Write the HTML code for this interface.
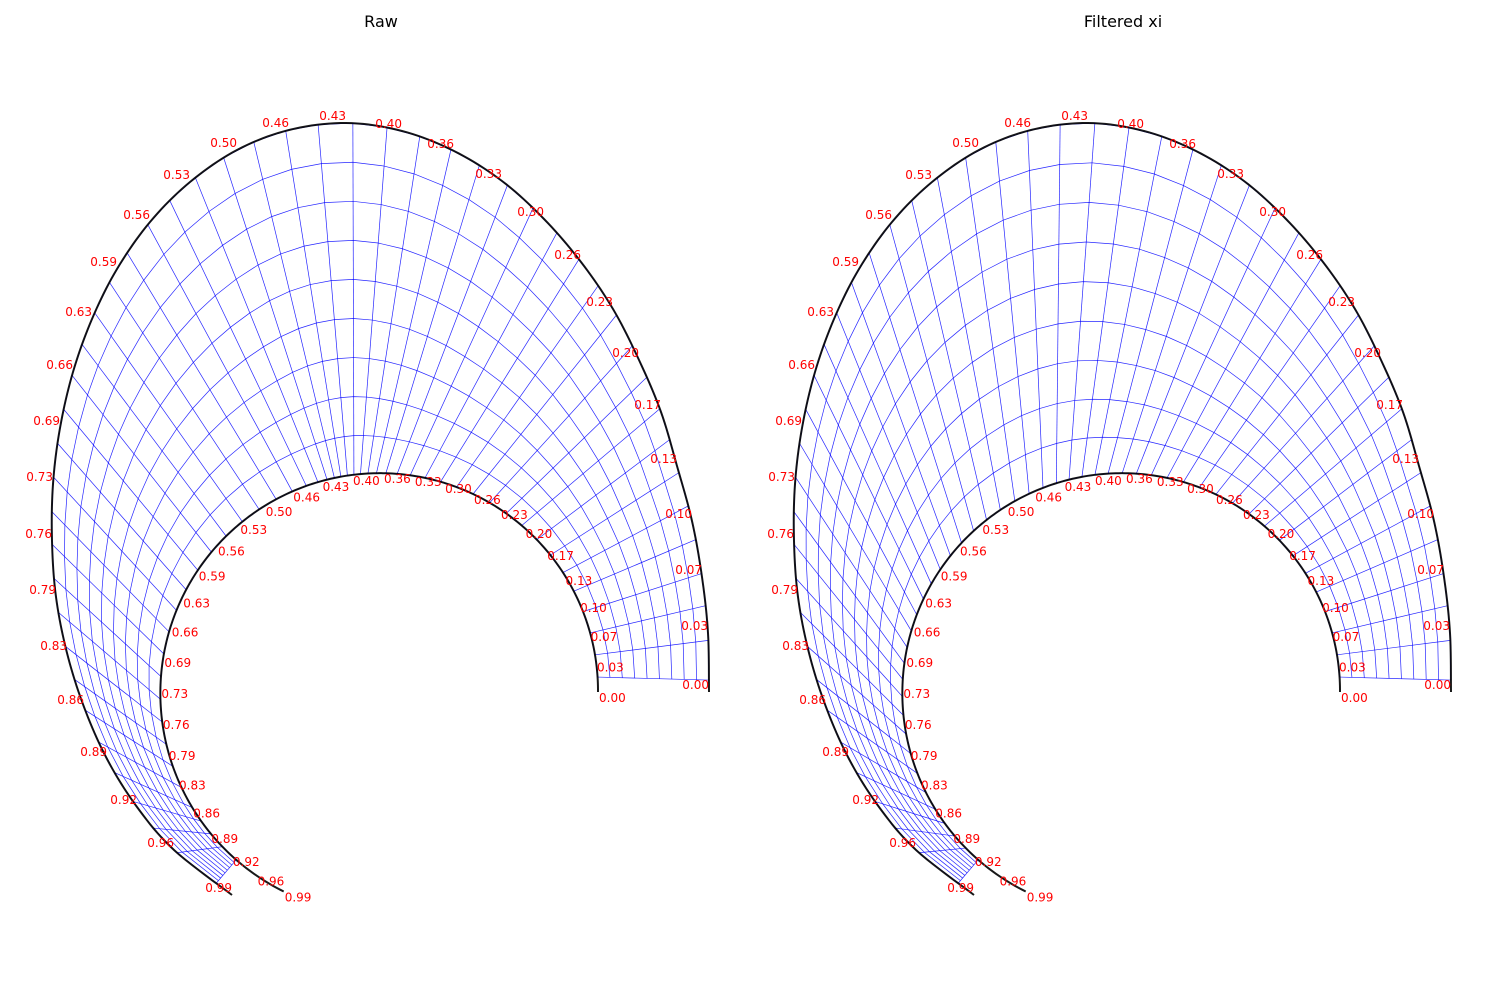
<!DOCTYPE html>
<html><head><meta charset="utf-8"><title>Raw vs Filtered xi mesh</title>
<style>
html,body{margin:0;padding:0;background:#fff;}
svg{display:block;}
text{font-family:"DejaVu Sans","Liberation Sans",sans-serif;}
</style></head>
<body>
<svg id="chart" width="1500" height="1000" viewBox="0 0 1500 1000" xmlns="http://www.w3.org/2000/svg">
  <rect width="1500" height="1000" fill="#fff"/>
  <text x="381" y="27" font-size="16" text-anchor="middle">Raw</text>
  <text x="1123" y="27" font-size="16" text-anchor="middle">Filtered xi</text>
  <g id="panel-raw"></g>
  <g id="panel-filtered"></g>
</svg>
<script>
// ---- data ----
const tickValues = [0,0.033,0.066,0.099,0.132,0.165,0.198,0.231,0.264,0.297,0.33,0.363,0.396,0.429,0.462,0.495,0.528,0.561,0.594,0.627,0.66,0.693,0.726,0.759,0.792,0.825,0.858,0.891,0.924,0.957,0.99];
const tickLabels = ["0.00","0.03","0.07","0.10","0.13","0.17","0.20","0.23","0.26","0.30","0.33","0.36","0.40","0.43","0.46","0.50","0.53","0.56","0.59","0.63","0.66","0.69","0.73","0.76","0.79","0.83","0.86","0.89","0.92","0.96","0.99"];
const outerXi = [0.009,0.029,0.049,0.068,0.088,0.108,0.128,0.148,0.167,0.187,0.207,0.227,0.247,0.266,0.286,0.306,0.326,0.346,0.365,0.385,0.405,0.425,0.445,0.464,0.484,0.504,0.524,0.544,0.563,0.583,0.603,0.623,0.643,0.662,0.682,0.702,0.722,0.742,0.761,0.781,0.801,0.821,0.841,0.860,0.880,0.900,0.920,0.940,0.959,0.979];
const rawInnerXi = [0.016,0.040,0.064,0.088,0.112,0.135,0.158,0.180,0.202,0.223,0.244,0.264,0.283,0.301,0.318,0.334,0.348,0.360,0.370,0.379,0.387,0.394,0.401,0.408,0.415,0.423,0.433,0.446,0.462,0.481,0.502,0.524,0.547,0.570,0.594,0.618,0.642,0.666,0.690,0.714,0.738,0.762,0.786,0.810,0.834,0.858,0.875,0.892,0.910,0.930];
const filteredInnerXi = [0.016,0.040,0.064,0.088,0.111,0.134,0.157,0.179,0.201,0.222,0.243,0.263,0.282,0.300,0.318,0.335,0.351,0.366,0.381,0.395,0.409,0.423,0.437,0.452,0.468,0.485,0.503,0.521,0.539,0.557,0.575,0.593,0.611,0.629,0.647,0.665,0.683,0.700,0.717,0.735,0.755,0.775,0.796,0.818,0.840,0.860,0.878,0.895,0.912,0.930];
const etaLevels = [0,0.1111,0.2222,0.3333,0.4444,0.5556,0.6667,0.7778,0.8889,1];

// ---- geometry (boundary shapes, not data) ----
const outerBoundaryGeometry = [[709,692],[708,633],[702,577],[692,521],[677,466],[661,412],[639,360],[613,309],[581,262],[544,219],[502,181],[454,151],[402,131],[346,123],[289,130],[237,150],[190,182],[150,222],[117,269],[92,319],[73,372],[60,428],[53,484],[52,541],[56,597],[67,653],[84,707],[107,759],[137,807],[174,850],[232,895]];
const XI_END = 0.99;

function catmull(pts,u){
  const n=pts.length;
  u=Math.max(0,Math.min(n-1,u));
  let i=Math.floor(u); if(i>=n-1) i=n-2;
  const f=u-i;
  const p0=pts[Math.max(i-1,0)],p1=pts[i],p2=pts[i+1],p3=pts[Math.min(i+2,n-1)];
  const c=(a,b,c2,d)=>0.5*((2*b)+(-a+c2)*f+(2*a-5*b+4*c2-d)*f*f+(-a+3*b-3*c2+d)*f*f*f);
  return [c(p0[0],p1[0],p2[0],p3[0]),c(p0[1],p1[1],p2[1],p3[1])];
}
function outerPt(t,dx){const p=catmull(outerBoundaryGeometry,t/XI_END*(outerBoundaryGeometry.length-1));return [p[0]+dx,p[1]];}
function innerPt(t,dx){
  const th=t/XI_END*244*Math.PI/180;
  const r=217+5*t;
  return [381+dx+r*Math.cos(th),692-r*Math.sin(th)];
}
const NS="http://www.w3.org/2000/svg";
function mk(tag,attrs,parent){const e=document.createElementNS(NS,tag);for(const k in attrs)e.setAttribute(k,attrs[k]);parent.appendChild(e);return e;}
function pathFrom(pts){return pts.map((p,i)=>(i?'L':'M')+p[0].toFixed(2)+' '+p[1].toFixed(2)).join(' ');}

function drawPanel(g,innerXi,dx){
  // mesh nodes
  const nodes=innerXi.map((a,k)=>{
    const pi=innerPt(a,dx),po=outerPt(outerXi[k],dx);
    return etaLevels.map(e=>[pi[0]+e*(po[0]-pi[0]),pi[1]+e*(po[1]-pi[1])]);
  });
  const mesh=mk('g',{},g);
  
  
  nodes.forEach((col)=>{
    const l=mk('path',{d:pathFrom([col[0],col[col.length-1]]),stroke:'#0000ff','stroke-width':0.7,'stroke-opacity':0.85,fill:'none'},mesh);
    
    
  });
  etaLevels.forEach((e,j)=>{
    const l=mk('path',{d:pathFrom(nodes.map(c=>c[j])),stroke:'#0000ff','stroke-width':0.7,'stroke-opacity':0.85,fill:'none'},mesh);
    
    
  });
  // boundaries
  const ip=[],op=[];
  for(let i=0;i<=300;i++){const t=XI_END*i/300;ip.push(innerPt(t,dx));op.push(outerPt(t,dx));}
  const ib=mk('path',{d:pathFrom(ip),stroke:'#000','stroke-width':2,fill:'none','stroke-opacity':0.9},g);
  
  
  const ob=mk('path',{d:pathFrom(op),stroke:'#000','stroke-width':2,fill:'none','stroke-opacity':0.9},g);
  
  
  // labels
  tickValues.forEach((t,i)=>{
    const p=innerPt(t,dx);
    const tx=mk('text',{x:(p[0]+1).toFixed(1),y:(p[1]+10).toFixed(1),'font-size':12,fill:'#ff0000'},g);
    tx.textContent=tickLabels[i];
    
    
    const q=outerPt(t,dx);
    const to=mk('text',{x:q[0].toFixed(1),y:(q[1]-3).toFixed(1),'font-size':12,fill:'#ff0000','text-anchor':'end'},g);
    to.textContent=tickLabels[i];
    
    
  });
}
drawPanel(document.getElementById('panel-raw'),rawInnerXi,0);
drawPanel(document.getElementById('panel-filtered'),filteredInnerXi,742);
</script>
</body></html>
